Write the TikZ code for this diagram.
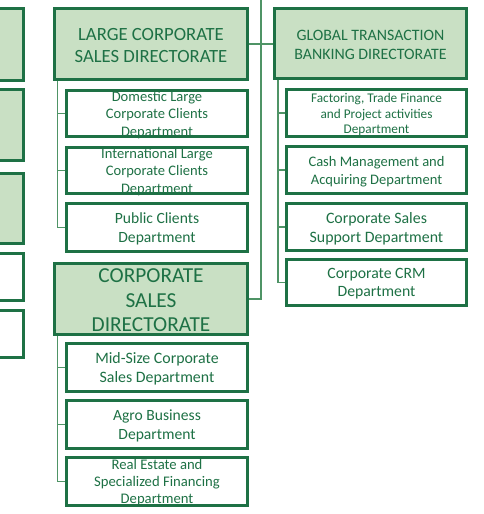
\documentclass[tikz,border=0pt]{standalone}
\usepackage{fontspec}
\setmainfont{Carlito}
\usetikzlibrary{backgrounds}
\definecolor{bd}{HTML}{1E7145}
\definecolor{fl}{HTML}{C9E0C4}
\definecolor{tx}{HTML}{1E7145}
\definecolor{cn}{HTML}{4F9466}
\begin{document}
\begin{tikzpicture}[x=0.75pt,y=-0.75pt,
  box/.style={draw=bd, line width=2.25pt, fill=white, inner sep=0pt, rectangle},
  dirbox/.style={box, fill=fl},
  txt/.style={text=tx, align=center, inner sep=0pt, yshift=-1.1pt},
  conn/.style={draw=cn, line width=1pt},
  fs/.style 2 args={font=\fontsize{#1}{#2}\selectfont}]
\useasboundingbox (0,0) rectangle (484,514);

% cut-off boxes on the left
\node[dirbox, minimum width=145.125pt, minimum height=54pt] (la) at (-73.25,44.5) {};
\node[dirbox, minimum width=145.125pt, minimum height=53.25pt] (lb) at (-73.25,125) {};
\node[dirbox, minimum width=145.125pt, minimum height=52.5pt] (lc) at (-73.25,208.5) {};
\node[box, minimum width=145.125pt, minimum height=35.25pt] (ld) at (-73.25,277) {};
\node[box, minimum width=145.125pt, minimum height=35.25pt] (le) at (-73.25,334) {};

% large corporate
\node[dirbox, minimum width=144.75pt, minimum height=53.25pt] (lcsd) at (151,44) {};
\node[txt, fs={14}{17}] (lcsdt) at (lcsd) {LARGE CORPORATE\\SALES DIRECTORATE};
\node[box, minimum width=135.75pt, minimum height=34.5pt] (dom) at (157,113.5) {};
\node[txt, fs={10.9}{13.1}] (domt) at (dom) {Domestic Large\\Corporate Clients\\Department};
\node[box, minimum width=135.75pt, minimum height=34.5pt] (intl) at (157,170.5) {};
\node[txt, fs={10.9}{13.1}] (intlt) at (intl) {International Large\\Corporate Clients\\Department};
\node[box, minimum width=135.75pt, minimum height=36pt] (pub) at (157,227.5) {};
\node[txt, fs={11.7}{14.5}] (pubt) at (pub) {Public Clients\\Department};

% corporate sales
\node[dirbox, minimum width=144.75pt, minimum height=53.25pt] (csd) at (151,299) {};
\node[txt, fs={16}{18.4}] (csdt) at (csd) {CORPORATE\\SALES\\DIRECTORATE};
\node[box, minimum width=135.75pt, minimum height=36pt] (mid) at (157,367.5) {};
\node[txt, fs={11.9}{14}] (midt) at (mid) {Mid-Size Corporate\\Sales Department};
\node[box, minimum width=135.75pt, minimum height=36pt] (agro) at (157,424.5) {};
\node[txt, fs={11.7}{13.75}] (agrot) at (agro) {Agro Business\\Department};
\node[box, minimum width=135.75pt, minimum height=36pt] (real) at (157,481.5) {};
\node[txt, fs={11}{12.75}] (realt) at (real) {Real Estate and\\Specialized Financing\\Department};

% global transaction banking
\node[dirbox, minimum width=144pt, minimum height=52.5pt] (gtbd) at (370.5,43.5) {};
\node[txt, fs={11.9}{13.7}] (gtbdt) at (gtbd) {GLOBAL TRANSACTION\\BANKING DIRECTORATE};
\node[box, minimum width=135pt, minimum height=35.25pt] (fact) at (376.5,113) {};
\node[txt, fs={9.95}{11.85}] (factt) at (fact) {Factoring, Trade Finance\\and Project activities\\Department};
\node[box, minimum width=135pt, minimum height=35.25pt] (cash) at (376.5,170) {};
\node[txt, fs={10.9}{13.7}] (casht) at (cash) {Cash Management and\\Acquiring Department};
\node[box, minimum width=135pt, minimum height=35.25pt] (css) at (376.5,227) {};
\node[txt, fs={11.9}{14.25}] (csst) at (css) {Corporate Sales\\Support Department};
\node[box, minimum width=135pt, minimum height=34.5pt] (crm) at (376.5,282.5) {};
\node[txt, fs={11.8}{13.7}] (crmt) at (crm) {Corporate CRM\\Department};

\begin{pgfonlayer}{background}
\coordinate (lcb) at (57.5,80);
\foreach \c in {dom,intl,pub} \draw[conn] (lcb) |- (\c.west);
\coordinate (csb) at (57.5,335);
\foreach \c in {mid,agro,real} \draw[conn] (csb) |- (\c.west);
\coordinate (gtb) at (278,79);
\foreach \c in {fact,cash,css,crm} \draw[conn] (gtb) |- (\c.west);
\coordinate (trunk) at (261,-5);
\draw[conn] (trunk) |- (csd.east);
\draw[conn] (lcsd.east) -- (lcsd.east -| gtbd.west);
\end{pgfonlayer}
\end{tikzpicture}
\end{document}
